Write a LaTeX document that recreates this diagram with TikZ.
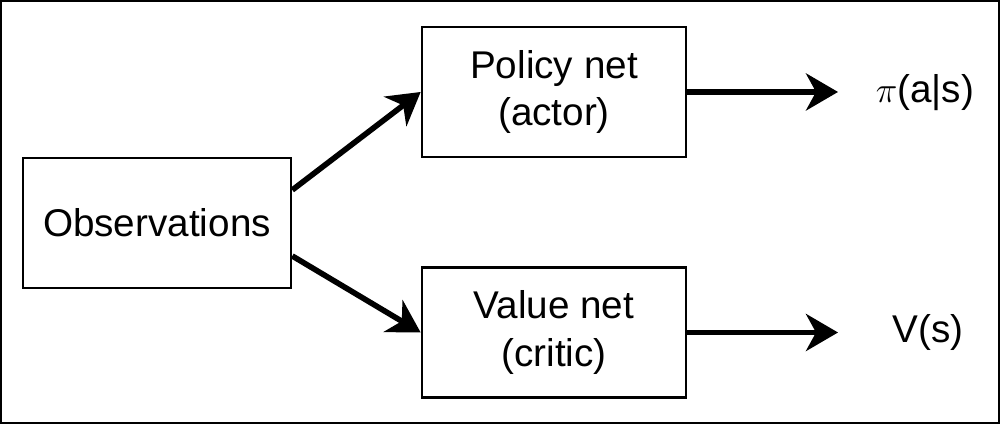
\documentclass[tikz,border=0pt]{standalone}
\usepackage{fontspec}
\setmainfont{Liberation Sans}
\usetikzlibrary{arrows.meta}
\tikzset{
  netbox/.style={draw=black,line width=1.5pt,minimum height=2.6cm,align=center,
    font=\fontsize{22}{27}\selectfont},
  flow/.style={line width=3.2pt,-{Stealth[length=6.4mm,width=7.4mm,inset=2mm]}},
  outlabel/.style={font=\fontsize{22}{27}\selectfont}
}
\begin{document}
\begin{tikzpicture}
          % frame
          \draw[black,line width=1.1pt] (0.02,0.02) rectangle (19.98,8.46);
          \node[netbox,minimum width=5.36cm] (obs) at (3.14,4.02) {Observations};
          \node[netbox,minimum width=5.28cm] (actor) at (11.08,6.64) {Policy net\\(actor)};
          \node[netbox,minimum width=5.28cm] (critic) at (11.08,1.83) {Value net\\(critic)};
          \coordinate (pout) at (16.76,6.64);
          \coordinate (vout) at (16.76,1.83);
          \node[outlabel] (pi) at (18.5,6.62) {$\pi$(a|s)};
          \node[outlabel] (v) at (18.56,1.83) {V(s)};
          \draw[flow] ([yshift=0.66cm]obs.east) -- (actor.west);
          \draw[flow] ([yshift=-0.66cm]obs.east) -- (critic.west);
          \foreach \src/\dst in {actor/pout,critic/vout}{
            \draw[flow] (\src.east) -- (\dst);
          }
        \end{tikzpicture}
\end{document}
